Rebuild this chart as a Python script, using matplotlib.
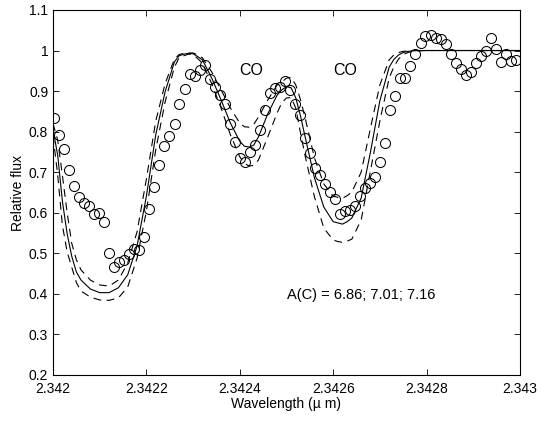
import matplotlib
matplotlib.use("Agg")
import matplotlib.pyplot as plt

plt.rcParams['font.family'] = ['Liberation Sans', 'DejaVu Sans']

# observed spectrum (circles)
wave_obs = [
    2.3420021, 2.3420129, 2.3420236, 2.3420344, 2.3420451, 2.3420559, 2.3420666, 2.3420774,
    2.3420881, 2.3420989, 2.3421097, 2.3421204, 2.3421312, 2.3421419, 2.3421527, 2.3421634,
    2.3421742, 2.3421849, 2.3421957, 2.3422064, 2.3422172, 2.3422279, 2.3422387, 2.3422494,
    2.3422602, 2.3422709, 2.3422817, 2.3422924, 2.3423032, 2.3423139, 2.3423247, 2.3423355,
    2.3423462, 2.3423570, 2.3423677, 2.3423785, 2.3423892, 2.3424000, 2.3424107, 2.3424215,
    2.3424322, 2.3424430, 2.3424537, 2.3424645, 2.3424752, 2.3424860, 2.3424968, 2.3425075,
    2.3425183, 2.3425290, 2.3425398, 2.3425505, 2.3425613, 2.3425720, 2.3425828, 2.3425935,
    2.3426043, 2.3426150, 2.3426258, 2.3426365, 2.3426473, 2.3426581, 2.3426688, 2.3426796,
    2.3426903, 2.3427011, 2.3427118, 2.3427226, 2.3427333, 2.3427441, 2.3427548, 2.3427656,
    2.3427763, 2.3427871, 2.3427978, 2.3428086, 2.3428194, 2.3428301, 2.3428409, 2.3428516,
    2.3428624, 2.3428731, 2.3428839, 2.3428946, 2.3429054, 2.3429161, 2.3429269, 2.3429376,
    2.3429484, 2.3429591, 2.3429699, 2.3429806, 2.3429914,
]
flux_obs = [
    0.834, 0.792, 0.758, 0.705, 0.667, 0.640, 0.623, 0.617,
    0.597, 0.600, 0.578, 0.500, 0.466, 0.479, 0.483, 0.498,
    0.511, 0.507, 0.540, 0.609, 0.664, 0.718, 0.765, 0.789,
    0.818, 0.867, 0.904, 0.943, 0.938, 0.951, 0.964, 0.931,
    0.911, 0.891, 0.868, 0.818, 0.774, 0.736, 0.724, 0.751,
    0.766, 0.805, 0.853, 0.895, 0.908, 0.910, 0.925, 0.902,
    0.867, 0.842, 0.784, 0.747, 0.710, 0.692, 0.672, 0.650,
    0.635, 0.598, 0.604, 0.608, 0.617, 0.641, 0.660, 0.674,
    0.689, 0.724, 0.773, 0.853, 0.888, 0.932, 0.933, 0.962,
    0.991, 1.019, 1.036, 1.038, 1.032, 1.028, 1.015, 0.991,
    0.970, 0.954, 0.939, 0.948, 0.969, 0.987, 0.999, 1.032,
    1.003, 0.971, 0.991, 0.973, 0.977,
]

# synthetic spectra, A(C) = 7.01 (solid), 6.86 and 7.16 (dashed)
wave_syn = [
    2.34200, 2.34201, 2.34202, 2.34203, 2.34204, 2.34205, 2.34206, 2.34208,
    2.34210, 2.34212, 2.34214, 2.34216, 2.34218, 2.34220, 2.34222, 2.34224,
    2.34226, 2.34227, 2.34228, 2.34229, 2.34230, 2.34231, 2.34232, 2.34234,
    2.34236, 2.34238, 2.34240, 2.34241, 2.34242, 2.34243, 2.34244, 2.34246,
    2.34248, 2.34249, 2.34250, 2.34251, 2.34252, 2.34253, 2.34254, 2.34256,
    2.34258, 2.34260, 2.34261, 2.34262, 2.34263, 2.34264, 2.34266, 2.34268,
    2.34270, 2.34272, 2.34273, 2.34274, 2.34275, 2.34276, 2.34277, 2.34278,
    2.34280, 2.34282, 2.34284, 2.34286, 2.34288, 2.34290, 2.34292, 2.34294,
    2.34296, 2.34298, 2.34300,
]
flux_701 = [
    0.805, 0.742, 0.629, 0.550, 0.493, 0.454, 0.434, 0.412,
    0.403, 0.403, 0.415, 0.447, 0.518, 0.641, 0.792, 0.898,
    0.972, 0.987, 0.991, 0.993, 0.992, 0.985, 0.977, 0.932,
    0.878, 0.821, 0.776, 0.764, 0.762, 0.767, 0.787, 0.844,
    0.890, 0.903, 0.911, 0.908, 0.883, 0.839, 0.787, 0.686,
    0.614, 0.578, 0.575, 0.572, 0.578, 0.587, 0.636, 0.750,
    0.876, 0.959, 0.978, 0.989, 0.995, 0.998, 0.999, 1.000,
    1.000, 1.000, 1.000, 1.000, 1.000, 1.000, 1.000, 1.000,
    1.000, 1.000, 1.000,
]
flux_686 = [
    0.820, 0.779, 0.693, 0.602, 0.525, 0.484, 0.459, 0.434,
    0.422, 0.419, 0.434, 0.476, 0.553, 0.683, 0.826, 0.918,
    0.979, 0.990, 0.993, 0.994, 0.994, 0.989, 0.982, 0.947,
    0.903, 0.858, 0.821, 0.812, 0.811, 0.818, 0.836, 0.878,
    0.915, 0.922, 0.932, 0.934, 0.915, 0.879, 0.834, 0.735,
    0.671, 0.641, 0.638, 0.636, 0.642, 0.651, 0.700, 0.809,
    0.915, 0.977, 0.989, 0.995, 0.998, 0.999, 1.000, 1.000,
    1.000, 1.000, 1.000, 1.000, 1.000, 1.000, 1.000, 1.000,
    1.000, 1.000, 1.000,
]
flux_716 = [
    0.790, 0.693, 0.570, 0.505, 0.466, 0.428, 0.407, 0.392,
    0.385, 0.384, 0.390, 0.417, 0.488, 0.604, 0.755, 0.873,
    0.959, 0.982, 0.987, 0.991, 0.990, 0.980, 0.969, 0.918,
    0.858, 0.792, 0.738, 0.722, 0.715, 0.717, 0.730, 0.787,
    0.846, 0.871, 0.883, 0.884, 0.858, 0.797, 0.740, 0.639,
    0.562, 0.533, 0.529, 0.527, 0.530, 0.535, 0.582, 0.704,
    0.826, 0.932, 0.960, 0.979, 0.990, 0.995, 0.998, 0.999,
    1.000, 1.000, 1.000, 1.000, 1.000, 1.000, 1.000, 1.000,
    1.000, 1.000, 1.000,
]

xticks = [2.342, 2.3422, 2.3424, 2.3426, 2.3428, 2.343]
xticklabels = ['2.342', '2.3422', '2.3424', '2.3426', '2.3428', '2.343']
yticks = [0.2, 0.3, 0.4, 0.5, 0.6, 0.7, 0.8, 0.9, 1.0, 1.1]
yticklabels = ['0.2', '0.3', '0.4', '0.5', '0.6', '0.7', '0.8', '0.9', '1', '1.1']

fig = plt.figure(figsize=(5.41, 4.22), dpi=100)
ax = fig.add_axes([0.098, 0.1114, 0.863, 0.865])

ax.plot(wave_syn, flux_701, color='black', lw=0.8)
ax.plot(wave_syn, flux_686, color='black', lw=0.8, dashes=(7, 5))
ax.plot(wave_syn, flux_716, color='black', lw=0.8, dashes=(7, 5))
ax.plot(wave_obs, flux_obs, 'o', mfc='none', mec='black', ms=7.2, mew=0.75)

ax.text(2.3424255, 0.95, 'CO', fontsize=11.5, ha='center', va='center')
ax.text(2.3426253, 0.95, 'CO', fontsize=11.5, ha='center', va='center')
ax.text(2.3425004, 0.397, 'A(C) = 6.86; 7.01; 7.16', fontsize=10.5, ha='left', va='center')

ax.set_xlim(2.342, 2.343)
ax.set_ylim(0.2, 1.1)
ax.set_xticks(xticks)
ax.set_xticklabels(xticklabels)
ax.set_yticks(yticks)
ax.set_yticklabels(yticklabels)
ax.tick_params(direction='in', length=4, width=0.6, top=True, right=True, labelsize=10)
ax.tick_params(axis='x', pad=5)
ax.tick_params(axis='y', pad=3.5)
for s in ax.spines.values():
    s.set_linewidth(0.8)

ax.set_xlabel('Wavelength (\u00b5 m)', fontsize=10, labelpad=1)
ax.set_ylabel('Relative flux', fontsize=10, labelpad=3)

fig.savefig('out.png', dpi=100)
